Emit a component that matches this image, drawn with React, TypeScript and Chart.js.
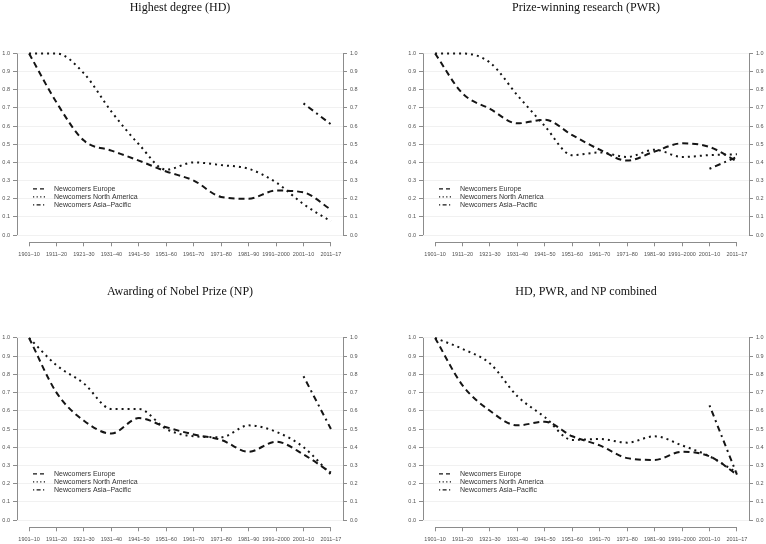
import React, { useEffect, useRef } from "react";
import { Chart, registerables } from "chart.js";

Chart.register(...registerables);

// ---------- data ----------
const categories = [
  "1901–10", "1911–20", "1921–30", "1931–40", "1941–50", "1951–60",
  "1961–70", "1971–80", "1981–90", "1991–2000", "2001–10", "2011–17",
];
const yTicks = [0, 0.1, 0.2, 0.3, 0.4, 0.5, 0.6, 0.7, 0.8, 0.9, 1.0];
const seriesLabels = ["Newcomers Europe", "Newcomers North America", "Newcomers Asia–Pacific"];
const titles = [
  "Highest degree (HD)",
  "Prize-winning research (PWR)",
  "Awarding of Nobel Prize (NP)",
  "HD, PWR, and NP combined",
];

const N = null;
const hdEurope = [1.0, 0.73, 0.52, 0.465, 0.41, 0.35, 0.30, 0.21, 0.20, 0.245, 0.235, 0.14];
const hdNorthAmerica = [1.0, 1.0, 0.89, 0.68, 0.50, 0.36, 0.40, 0.385, 0.365, 0.29, 0.17, 0.075];
const hdAsiaPacific = [N, N, N, N, N, N, N, N, N, N, 0.725, 0.61];

const pwrEurope = [1.0, 0.78, 0.695, 0.615, 0.635, 0.55, 0.47, 0.41, 0.46, 0.505, 0.485, 0.405];
const pwrNorthAmerica = [1.0, 1.0, 0.95, 0.77, 0.60, 0.44, 0.455, 0.43, 0.47, 0.43, 0.44, 0.445];
const pwrAsiaPacific = [N, N, N, N, N, N, N, N, N, N, 0.365, 0.43];

const npEurope = [1.0, 0.70, 0.545, 0.475, 0.56, 0.51, 0.47, 0.44, 0.375, 0.43, 0.36, 0.26];
const npNorthAmerica = [1.0, 0.85, 0.75, 0.61, 0.61, 0.50, 0.46, 0.455, 0.52, 0.485, 0.40, 0.25];
const npAsiaPacific = [N, N, N, N, N, N, N, N, N, N, 0.79, 0.50];

const allEurope = [1.0, 0.74, 0.60, 0.52, 0.54, 0.46, 0.41, 0.34, 0.33, 0.375, 0.35, 0.25];
const allNorthAmerica = [1.0, 0.94, 0.86, 0.68, 0.565, 0.44, 0.445, 0.425, 0.46, 0.41, 0.35, 0.26];
const allAsiaPacific = [N, N, N, N, N, N, N, N, N, N, 0.63, 0.25];

const panelSeries = [
  [hdEurope, hdNorthAmerica, hdAsiaPacific],
  [pwrEurope, pwrNorthAmerica, pwrAsiaPacific],
  [npEurope, npNorthAmerica, npAsiaPacific],
  [allEurope, allNorthAmerica, allAsiaPacific],
];

// ---------- layout / style ----------
const PW = 383;
const PH = 272;
const layouts = [
  { left: 0, top: 0, leftW: 17, rightW: 40, titleTop: 1, titleBottom: 30.8, xH: 29.7 },
  { left: 383, top: 0, leftW: 40, rightW: 17, titleTop: 1, titleBottom: 30.8, xH: 29.7 },
  { left: 0, top: 272, leftW: 17, rightW: 40, titleTop: 13, titleBottom: 31.3, xH: 16.7 },
  { left: 383, top: 272, leftW: 40, rightW: 17, titleTop: 13, titleBottom: 31.3, xH: 16.7 },
];
const LINE = "#151515";
const AXIS = "#8c8c8c";
const GRID = "#f1f1f1";
const TICK_TXT = "#505050";
const dashes = [[6, 4], [2, 4], [2, 4, 6, 4]];
const legendDashes = [[4, 3], [1.2, 2.4], [1.2, 2.4, 4, 2.4]];
const legendOffsets = [53.5, 45.5, 37.5];
const tickFont = { family: "'Liberation Sans', Arial, sans-serif", size: 5.5 };

const alignPx = (p: number) => Math.round(p - 0.5) + 0.5;

const rAxes = {
  id: "rAxes",
  afterDraw(chart: any) {
    const { ctx, chartArea: a, scales } = chart;
    const y = scales.y;
    const x = scales.x;
    const y0 = y.getPixelForValue(0);
    const y1 = y.getPixelForValue(1);
    const x0 = x.getPixelForValue(0);
    const x1 = x.getPixelForValue(categories.length - 1);
    ctx.save();
    ctx.strokeStyle = AXIS;
    ctx.lineWidth = 1;
    ctx.beginPath();
    const L = alignPx(a.left);
    const R = alignPx(a.right);
    const B = alignPx(a.bottom);
    ctx.moveTo(L, y0);
    ctx.lineTo(L, y1);
    ctx.moveTo(R, y0);
    ctx.lineTo(R, y1);
    ctx.moveTo(x0, B);
    ctx.lineTo(x1, B);
    ctx.stroke();
    ctx.restore();
  },
};

const rLegend = {
  id: "rLegend",
  afterDatasetsDraw(chart: any) {
    const { ctx, chartArea: a } = chart;
    chart.data.datasets.forEach((ds: any, i: number) => {
      const yy = a.bottom - legendOffsets[i];
      ctx.save();
      ctx.strokeStyle = ds.borderColor;
      ctx.lineWidth = 1.3;
      ctx.setLineDash(legendDashes[i]);
      ctx.beginPath();
      ctx.moveTo(a.left + 16, yy);
      ctx.lineTo(a.left + 29, yy);
      ctx.stroke();
      ctx.setLineDash([]);
      ctx.fillStyle = "#333333";
      ctx.font = "7px 'Liberation Sans', Arial, sans-serif";
      ctx.textBaseline = "middle";
      ctx.textAlign = "left";
      ctx.fillText(ds.label, a.left + 37, yy);
      ctx.restore();
    });
  },
};

function makeConfig(idx: number): any {
  const lay = layouts[idx];
  const series = panelSeries[idx];
  const yScale = (pos: string, width: number, grid: boolean) => ({
    type: "linear",
    position: pos,
    min: -0.04,
    max: 1.04,
    afterBuildTicks: (s: any) => {
      s.ticks = yTicks.map((v) => ({ value: v }));
    },
    ticks: {
      callback: (v: number) => v.toFixed(1),
      font: tickFont,
      color: TICK_TXT,
      padding: 3,
    },
    grid: {
      display: true,
      drawOnChartArea: grid,
      color: GRID,
      drawTicks: true,
      tickLength: 4,
      tickColor: AXIS,
    },
    border: { display: false },
    afterFit: (s: any) => {
      s.width = width;
    },
  });
  return {
    type: "line",
    data: {
      datasets: series.map((vals, i) => ({
        label: seriesLabels[i],
        data: vals.map((v, k) => ({ x: k, y: v })),
        borderColor: LINE,
        borderWidth: 2,
        borderDash: dashes[i],
        borderCapStyle: "butt",
        pointRadius: 0,
        cubicInterpolationMode: "monotone",
        fill: false,
        spanGaps: false,
      })),
    },
    options: {
      animation: false,
      responsive: false,
      events: [],
      layout: { padding: 0 },
      plugins: {
        legend: { display: false },
        tooltip: { enabled: false },
        title: {
          display: true,
          text: titles[idx],
          fullSize: false,
          color: "#111111",
          font: { family: "'Liberation Serif', 'Times New Roman', serif", size: 12, weight: "normal" },
          padding: { top: lay.titleTop, bottom: lay.titleBottom },
        },
      },
      scales: {
        x: {
          type: "linear",
          min: -0.44,
          max: categories.length - 1 + 0.44,
          afterBuildTicks: (s: any) => {
            s.ticks = categories.map((_, i) => ({ value: i }));
          },
          ticks: {
            callback: (v: number) => categories[v],
            autoSkip: false,
            maxRotation: 0,
            minRotation: 0,
            font: tickFont,
            color: TICK_TXT,
            padding: 5,
          },
          grid: {
            display: true,
            drawOnChartArea: false,
            drawTicks: true,
            tickLength: 4,
            tickColor: AXIS,
          },
          border: { display: false },
          afterFit: (s: any) => {
            s.height = lay.xH;
          },
        },
        y: yScale("left", lay.leftW, true),
        y2: yScale("right", lay.rightW, false),
      },
    },
    plugins: [rAxes, rLegend],
  };
}

function Panel({ idx }: { idx: number }) {
  const ref = useRef<HTMLCanvasElement | null>(null);
  useEffect(() => {
    const chart = new Chart(ref.current as HTMLCanvasElement, makeConfig(idx));
    return () => chart.destroy();
  }, [idx]);
  const lay = layouts[idx];
  return (
    <canvas
      ref={ref}
      width={PW}
      height={PH}
      style={{ position: "absolute", left: lay.left, top: lay.top, width: PW, height: PH }}
    />
  );
}

export default function App() {
  return (
    <div
      style={{
        position: "fixed",
        left: 0,
        top: 0,
        width: 766,
        height: 544,
        background: "#ffffff",
        overflow: "hidden",
      }}
    >
      {[0, 1, 2, 3].map((i) => (
        <Panel key={i} idx={i} />
      ))}
    </div>
  );
}
